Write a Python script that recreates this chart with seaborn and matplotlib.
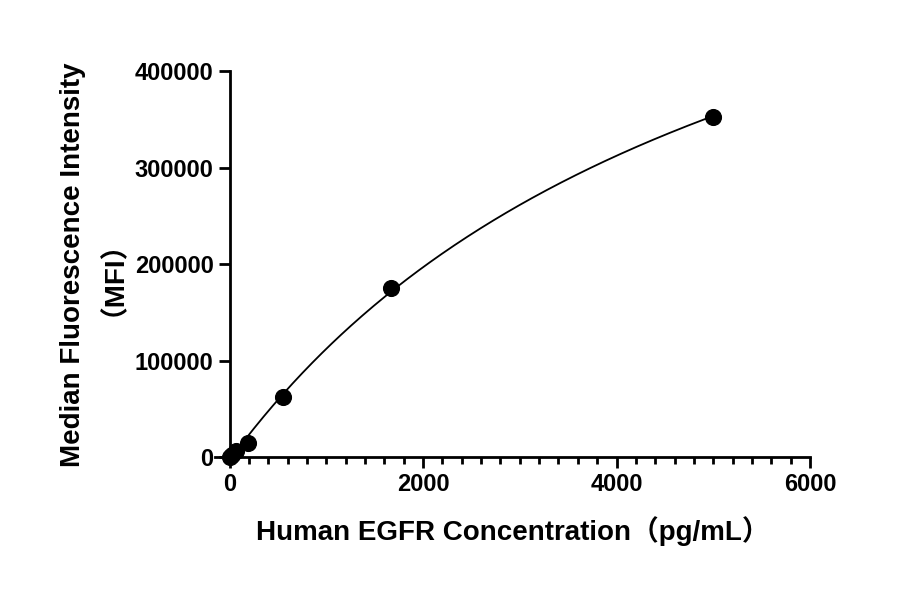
import numpy as np
import matplotlib.pyplot as plt
import seaborn as sns
from matplotlib.ticker import MultipleLocator

sns.set_style("ticks")
fams = ['Liberation Sans', 'Noto Sans CJK SC']
plt.rcParams['font.family'] = fams
plt.rcParams['text.color'] = 'black'
plt.rcParams['axes.labelcolor'] = 'black'
plt.rcParams['xtick.color'] = 'black'
plt.rcParams['ytick.color'] = 'black'

conc = [0, 21, 62, 185, 556, 1667, 5000]
mfi = [500, 2500, 7000, 14500, 63000, 175000, 353000]

# saturating fit y = a*x/(b+x) + c via grid over b
x = np.array(conc, float); y = np.array(mfi, float)
best = None
for b in np.linspace(500, 30000, 2000):
    A = np.vstack([x / (b + x), np.ones_like(x)]).T
    coef, res, *_ = np.linalg.lstsq(A, y, rcond=None)
    err = np.sum((A @ coef - y) ** 2)
    if best is None or err < best[0]:
        best = (err, b, coef)
_, b, coef = best
xs = np.linspace(0, 5000, 300)
ys = coef[0] * xs / (b + xs) + coef[1]

fig, ax = plt.subplots(figsize=(9, 5.94), dpi=100)
fig.subplots_adjust(left=0.239, right=0.9, top=0.88, bottom=0.23)
ax.plot(xs, ys, color='black', lw=1.3)
sns.scatterplot(x=conc, y=mfi, ax=ax, color='black', s=130, edgecolor='black', zorder=3, clip_on=False)

ax.set_xlim(-150, 6000)
ax.set_ylim(0, 400000)
ax.xaxis.set_minor_locator(MultipleLocator(200))
ax.yaxis.set_major_locator(MultipleLocator(100000))
ax.spines['left'].set_position(('data', 0))
ax.spines['left'].set_bounds(0, 400000)
sns.despine(ax=ax)
for s in ['left', 'bottom']:
    ax.spines[s].set_linewidth(2)
    ax.spines[s].set_color('black')
ax.tick_params(which='major', width=2, length=8, labelsize=17)
ax.tick_params(which='minor', width=2, length=5)
ax.set_xticks([0, 2000, 4000, 6000])
ax.set_xticklabels(['0', '2000', '4000', '6000'])
for lab in ax.get_xticklabels() + ax.get_yticklabels():
    lab.set_fontweight('bold')

ax.set_xlabel('Human EGFR Concentration（pg/mL）', fontsize=20, fontweight='bold',
              family=fams, labelpad=14)
ax.set_ylabel('Median Fluorescence Intensity\n（MFI）', fontsize=20, fontweight='bold',
              family=fams, labelpad=16, linespacing=1.0)
fig.savefig('out.png')
